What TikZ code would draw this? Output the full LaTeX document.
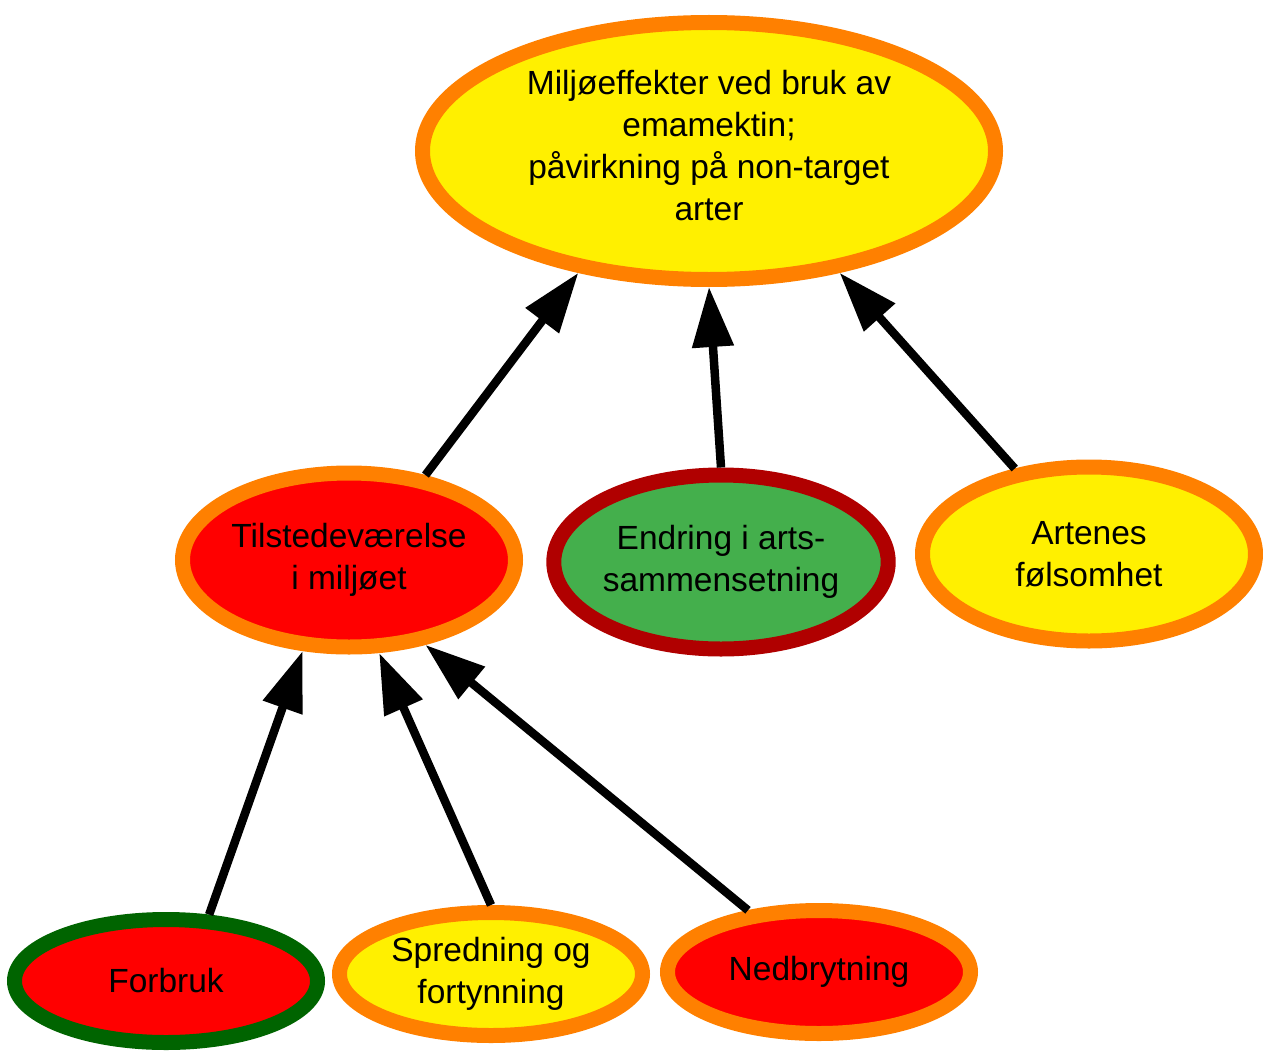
\documentclass[tikz,border=0pt]{standalone}
\usepackage{fontspec}
\setmainfont{Liberation Sans}
\usetikzlibrary{shapes.geometric,arrows.meta}
\definecolor{cyel}{HTML}{FFF000}
\definecolor{corg}{HTML}{FF8000}
\definecolor{cred}{HTML}{FF0000}
\definecolor{cgrn}{HTML}{44AF4C}
\definecolor{cdred}{HTML}{B00000}
\definecolor{cdgrn}{HTML}{006400}
\tikzset{
  bub/.style={ellipse, line width=15pt, inner sep=0pt, align=center,
    font=\fontsize{33.5}{42}\selectfont, text=black},
  big/.style={bub, minimum width=333pt, minimum height=174pt},
  small/.style={bub, minimum width=303pt, minimum height=123pt},
  arr/.style={line width=8.5pt, -{Triangle[length=60pt,width=40pt]}}
}
\begin{document}
\begin{tikzpicture}[x=1pt,y=-1pt]
\useasboundingbox (0,0) rectangle (1263,1054);
\node[bub, draw=corg, fill=cyel, minimum width=573pt, minimum height=257pt] (top) at (709,151) {};
\node[align=center, font=\fontsize{33.5}{42}\selectfont, inner sep=0pt] (toptext) at (709,146)
  {Miljøeffekter ved bruk av\\emamektin;\\påvirkning på non-target\\arter};
\node[big, draw=corg, fill=cred] (tilst) at (349,560) {Tilstedeværelse\\i miljøet};
\node[big, draw=cdred, fill=cgrn] (endr) at (721,562) {Endring i arts-\\sammensetning};
\node[big, draw=corg, fill=cyel] (art) at (1089,554) {Artenes\\følsomhet};
\node[small, draw=cdgrn, fill=cred] (forb) at (166,981) {Forbruk};
\node[small, draw=corg, fill=cyel] (spred) at (491,974) {Spredning og\\fortynning};
\node[small, draw=corg, fill=cred] (nedb) at (819,972) {Nedbrytning};
\draw[arr] (tilst.48.5) -- (top.223.5);
\draw[arr] (endr.90.6) -- (top.270.8);
\draw[arr] (art.131.2) -- (top.317);
\draw[arr] (forb.57.7) -- (tilst.243.7);
\draw[arr] (spred.90) -- (tilst.288.3);
\draw[arr] (nedb.139.3) -- (tilst.312);
\end{tikzpicture}
\end{document}
